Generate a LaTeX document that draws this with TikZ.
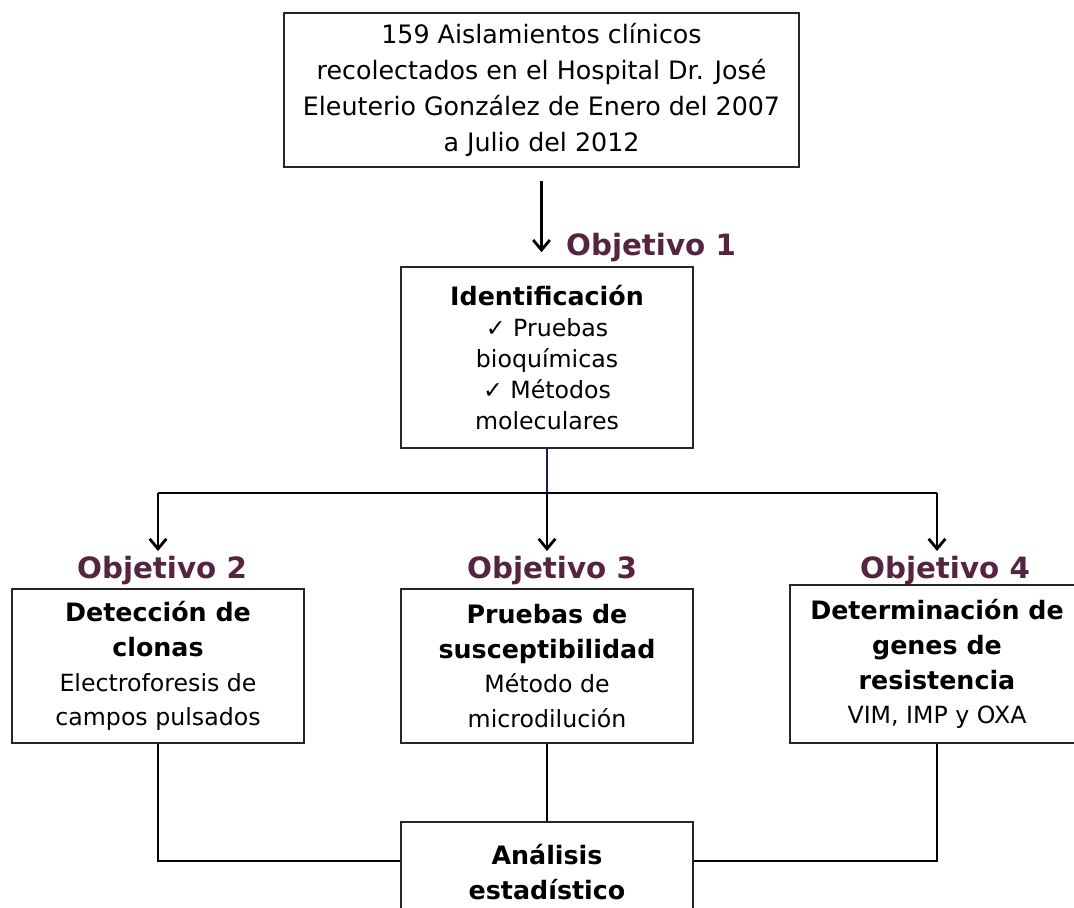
\documentclass[tikz,border=0pt]{standalone}
\usepackage{fontspec}
\setmainfont{DejaVu Sans}
\usetikzlibrary{arrows.meta}
\definecolor{objetivo}{RGB}{84,36,64}
\definecolor{azulosc}{RGB}{22,34,84}
\newcommand{\titulo}[1]{{\fontsize{19}{26}\selectfont\bfseries #1}}

\begin{document}
\begin{tikzpicture}[x=0.75pt,y=-0.75pt,
  caja/.style={draw=black!85,line width=1.2pt,align=center,inner sep=0pt,
    font=\fontsize{17.75}{26}\selectfont},
  objlabel/.style={anchor=base,text=objetivo,font=\fontsize{22}{26}\selectfont\bfseries},
  flecha/.style={line width=2.1pt,-{Straight Barb[length=7.5pt,width=12.5pt,line width=2.1pt]}},
  enlace/.style={line width=1.4pt}]
  \useasboundingbox (0,0) rectangle (1074,907);
  \clip (0,0) rectangle (1074,907);
  \node[caja,minimum width=386.25pt,minimum height=115.5pt,font=\fontsize{19}{27}\selectfont] (aislados) at (541.5,90)
    {159 Aislamientos clínicos\\recolectados en el Hospital Dr. José\\Eleuterio González de Enero del 2007\\a Julio del 2012};
  \node[caja,minimum width=219pt,minimum height=135.75pt,font=\fontsize{17.75}{23.25}\selectfont] (ident) at (547,357.5)
    {\titulo{Identificación}\\✓ Pruebas\\bioquímicas\\✓ Métodos\\moleculares};
  \node[objlabel] (obj1) at (651,255) {Objetivo 1};
  \node[caja,minimum width=219pt,minimum height=115.5pt] (clonas) at (158,666)
    {\titulo{Detección de}\\\titulo{clonas}\\Electroforesis de\\campos pulsados};
  \node[caja,minimum width=219pt,minimum height=115.5pt] (suscep) at (547,666)
    {\titulo{Pruebas de}\\\titulo{susceptibilidad}\\Método de\\microdilución};
  \node[caja,minimum width=220.5pt,minimum height=118.5pt] (genes) at (937,664)
    {\titulo{Determinación de}\\\titulo{genes de}\\\titulo{resistencia}\\VIM, IMP y OXA};
  \node[caja,minimum width=219pt,minimum height=75pt] (analisis) at (547,872)
    {\titulo{Análisis}\\\titulo{estadístico}};
  \node[objlabel] (obj2) at (162,578) {Objetivo 2};
  \node[objlabel] (obj3) at (552,578) {Objetivo 3};
  \node[objlabel] (obj4) at (945,578) {Objetivo 4};
  \coordinate (reparto) at (547,493);
  \coordinate (llegada) at (0,551);
  \coordinate (union) at (0,861);
  \draw[flecha] ([yshift=-9.75pt]aislados.south) -- ([yshift=10.5pt]aislados.south |- ident.north);
  \draw[enlace,line width=2pt,draw=azulosc] (ident) -- (reparto);
  \draw[enlace] (reparto -| clonas) -- (reparto -| genes);
  \draw[flecha] (reparto -| clonas) -- (llegada -| clonas);
  \draw[flecha] (reparto -| suscep) -- (llegada -| suscep);
  \draw[flecha] (reparto -| genes) -- (llegada -| genes);
  \draw[enlace] (clonas) -- (clonas |- union) -- (analisis.west |- union);
  \draw[enlace] (genes) -- (genes |- union) -- (analisis.east |- union);
  \draw[enlace] (suscep) -- (analisis);
\end{tikzpicture}
\end{document}
